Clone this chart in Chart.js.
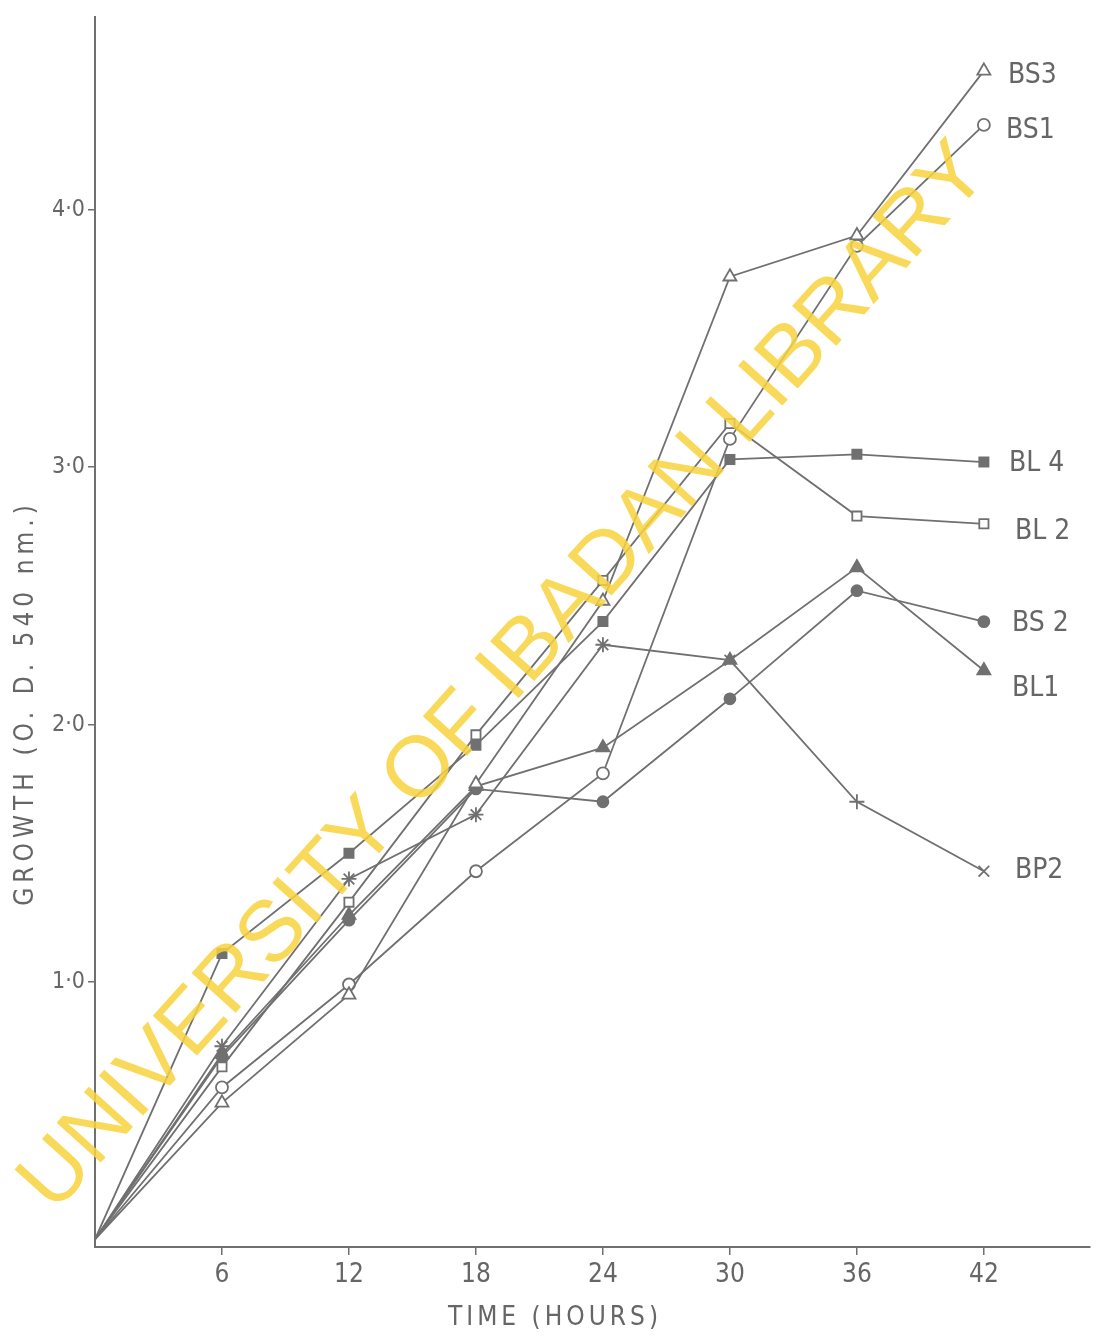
<!DOCTYPE html>
<html>
<head>
<meta charset="utf-8">
<script src="https://cdn.jsdelivr.net/npm/chart.js@4.4.1/dist/chart.umd.min.js"></script>
<style>
  body { margin: 0; background: #fff; }
  canvas { display: block; }
</style>
</head>
<body>
<canvas id="growthChart" width="1099" height="1339"></canvas>
<script>
const hours = [0, 6, 12, 18, 24, 30, 36, 42];
const bs3 = [0, 0.53, 0.95, 1.77, 2.48, 3.74, 3.90, 4.54];
const bs1 = [0, 0.59, 0.99, 1.43, 1.81, 3.11, 3.86, 4.33];
const bl4 = [0, 1.11, 1.50, 1.92, 2.40, 3.03, 3.05, 3.02];
const bl2 = [0, 0.67, 1.31, 1.96, 2.56, 3.17, 2.81, 2.78];
const bs2 = [0, 0.71, 1.24, 1.75, 1.70, 2.10, 2.52, 2.40];
const bl1 = [0, 0.72, 1.26, 1.76, 1.91, 2.25, 2.61, 2.21];
const bp2 = [0, 0.75, 1.40, 1.65, 2.31, 2.25, 1.70, 1.43];
const seriesNames = ['BS3', 'BS1', 'BL 4', 'BL 2', 'BS 2', 'BL1', 'BP2'];
const xTicks = [6, 12, 18, 24, 30, 36, 42];
const yTicks = [1, 2, 3, 4];

const ink = '#707070';
const textInk = '#666666';
const narrow = "'Liberation Sans Narrow', 'DejaVu Sans Condensed', 'Roboto', sans-serif";

// label offsets from the last point of each line (pixels)
const labelOffsets = [[24, 5], [22, 6], [25, 2], [31, 8], [28, 2], [28, 18], [31, -1]];

function pts(values) {
  return values.map((v, i) => ({ x: hours[i], y: v }));
}
function radii(r) {
  return hours.map((h, i) => (i === 0 ? 0 : r));
}

function series(idx, values, style, filled, r) {
  return {
    label: seriesNames[idx],
    data: pts(values),
    borderColor: ink,
    borderWidth: 1.8,
    pointStyle: style,
    pointRadius: radii(r),
    pointBorderWidth: 1.8,
    pointBorderColor: ink,
    pointBackgroundColor: filled ? ink : '#ffffff',
    tension: 0,
    fill: false
  };
}

const endLabels = {
  id: 'endLabels',
  afterDatasetsDraw(chart) {
    const ctx = chart.ctx;
    ctx.save();
    ctx.fillStyle = textInk;
    ctx.font = "28px " + narrow;
    ctx.textAlign = 'left';
    ctx.textBaseline = 'middle';
    chart.data.datasets.forEach((ds, i) => {
      const meta = chart.getDatasetMeta(i);
      const p = meta.data[meta.data.length - 1];
      ctx.fillText(ds.label, p.x + labelOffsets[i][0], p.y + labelOffsets[i][1]);
    });
    ctx.restore();
  }
};

const axisTitles = {
  id: 'axisTitles',
  afterDraw(chart) {
    const ctx = chart.ctx;
    ctx.save();
    ctx.fillStyle = textInk;
    ctx.textAlign = 'center';
    ctx.textBaseline = 'middle';
    ctx.font = "26px " + narrow;
    ctx.letterSpacing = '4px';
    ctx.fillText('TIME (HOURS)', 555, 1318);
    ctx.translate(26, 703);
    ctx.rotate(-Math.PI / 2);
    ctx.letterSpacing = '5px';
    ctx.fillText('GROWTH (O. D. 540 nm.)', 0, 0);
    ctx.restore();
  }
};

const watermark = {
  id: 'watermark',
  afterDraw(chart) {
    const ctx = chart.ctx;
    const text = 'UNIVERSITY OF IBADAN LIBRARY';
    ctx.save();
    ctx.translate(505, 678);
    ctx.rotate(-48 * Math.PI / 180);
    ctx.font = "72px 'Liberation Sans', Arial, sans-serif";
    const w = ctx.measureText(text).width;
    const size = 72 * 1400 / w;
    ctx.font = size.toFixed(1) + "px 'Liberation Sans', Arial, sans-serif";
    ctx.fillStyle = 'rgba(248, 210, 60, 0.85)';
    ctx.textAlign = 'center';
    ctx.textBaseline = 'middle';
    ctx.fillText(text, 0, 0);
    ctx.restore();
  }
};

const config = {
  type: 'line',
  data: {
    datasets: [
      series(0, bs3, 'triangle', false, 7.5),
      series(1, bs1, 'circle', false, 6),
      series(2, bl4, 'rect', true, 6.5),
      series(3, bl2, 'rect', false, 6.5),
      series(4, bs2, 'circle', true, 5.5),
      series(5, bl1, 'triangle', true, 7.5),
      Object.assign(series(6, bp2, 'crossRot', false, 7.5), {
        pointStyle: ['crossRot', 'star', 'star', 'star', 'star', 'crossRot', 'cross', 'crossRot']
      })
    ]
  },
  options: {
    responsive: false,
    animation: false,
    layout: { padding: { top: 0, right: 7, left: 0, bottom: 0 } },
    plugins: {
      legend: { display: false },
      tooltip: { enabled: false }
    },
    scales: {
      x: {
        type: 'linear',
        min: 0,
        max: 47,
        afterFit(scale) { scale.height = 92; },
        afterBuildTicks(scale) { scale.ticks = xTicks.map(v => ({ value: v })); },
        border: { color: ink, width: 2 },
        grid: { drawOnChartArea: false, color: ink, tickLength: 8, lineWidth: 1.5 },
        ticks: {
          color: textInk,
          font: { family: narrow, size: 26 },
          padding: 5,
          maxRotation: 0
        }
      },
      y: {
        type: 'linear',
        min: -0.03,
        max: 4.75,
        afterFit(scale) { scale.width = 95; },
        afterBuildTicks(scale) { scale.ticks = yTicks.map(v => ({ value: v })); },
        border: { color: ink, width: 2 },
        grid: { drawOnChartArea: false, color: ink, tickLength: 7, lineWidth: 1.5 },
        ticks: {
          color: textInk,
          font: { family: narrow, size: 23 },
          padding: 3,
          callback: v => v.toFixed(1).replace('.', '\u00b7')
        }
      }
    }
  },
  plugins: [endLabels, axisTitles, watermark]
};

const growthChart = new Chart(document.getElementById('growthChart'), config);
</script>
</body>
</html>
